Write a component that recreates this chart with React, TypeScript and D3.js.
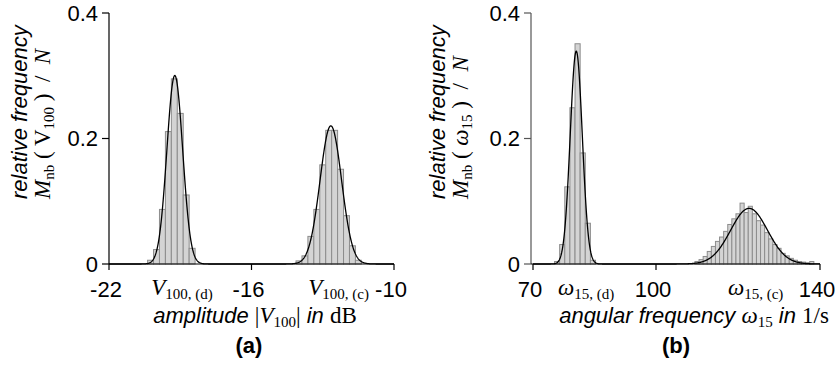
import React from "react";
import * as d3 from "d3";

// ---------- data ----------
const yTicks = [0, 0.2, 0.4];
const yTickLabels = ["0", "0.2", "0.4"];

const ampTicks = [-22, -16, -10];
const ampTickLabels = ["-22", "-16", "-10"];
const freqTicks = [70, 100, 140];
const freqTickLabels = ["70", "100", "140"];

// panel (a): amplitude |V100| in dB
const ampBinWidth = 0.25;
const ampCentersD = [-20.25, -20.0, -19.75, -19.5, -19.25, -19.0, -18.75, -18.5];
const ampFreqD = [0.006, 0.023, 0.087, 0.211, 0.295, 0.24, 0.11, 0.025];
const ampCentersC = [-14.0, -13.75, -13.5, -13.25, -13.0, -12.75, -12.5, -12.25, -12.0, -11.75, -11.5];
const ampFreqC = [0.005, 0.013, 0.044, 0.087, 0.158, 0.213, 0.213, 0.151, 0.077, 0.029, 0.006];
const ampFitMeans = [-19.23, -12.66];
const ampFitSigmas = [0.332, 0.453];
const ampFitBins = [0.25, 0.25];
const ampMarkPos = [-18.93, -12.33];

// panel (b): angular frequency omega15 in 1/s
const freqBinWidthD = 1.25;
const freqCentersD = [75.875, 77.125, 78.375, 79.625, 80.875, 82.125, 83.375, 84.625];
const freqValsD = [0.004, 0.031, 0.123, 0.249, 0.351, 0.177, 0.065, 0.006];
const freqBinWidthC = 1;
const freqCentersC = [110, 111, 112, 113, 114, 115, 116, 117, 118, 119, 120, 121, 122, 123, 124, 125, 126, 127, 128, 129, 130, 131, 132, 133, 134, 135, 136, 137, 138];
const freqValsC = [0.004, 0.007, 0.012, 0.02, 0.028, 0.036, 0.043, 0.052, 0.063, 0.072, 0.08, 0.097, 0.082, 0.092, 0.08, 0.069, 0.062, 0.05, 0.04, 0.031, 0.025, 0.017, 0.013, 0.009, 0.006, 0.004, 0.003, 0.002, 0.004];
const freqFitMeans = [80.55, 122.7];
const freqFitSigmas = [1.47, 4.5];
const freqFitBins = [1.25, 1];
const freqMarkPos = [82.98, 124.3];

// ---------- style ----------
const SANS = "'Liberation Sans', Arial, sans-serif";
const SERIF = "'Liberation Serif', 'Times New Roman', serif";
const FS = 22;
const MFS = 23;
const SFS = 15;
const BAR_FILL = "#d4d4d4";
const BAR_STROKE = "#8c8c8c";

const yScale = d3.scaleLinear().domain([0, 0.4]).range([264, 13]);

function mixture(means: number[], sigmas: number[], bins: number[]) {
  return (x: number) =>
    means.reduce((s, m, i) => {
      const sd = sigmas[i];
      const peak = bins[i] / (sd * Math.sqrt(2 * Math.PI));
      return s + peak * Math.exp(-((x - m) * (x - m)) / (2 * sd * sd));
    }, 0);
}

function Bars({ xs, centers, vals, bw }: any) {
  return (
    <g>
      {centers.map((c: number, i: number) => {
        const x0 = xs(c - bw / 2);
        const x1 = xs(c + bw / 2);
        return (
          <rect
            key={i}
            x={x0}
            y={yScale(vals[i])}
            width={x1 - x0}
            height={yScale(0) - yScale(vals[i])}
            fill={BAR_FILL}
            stroke={BAR_STROKE}
            strokeWidth={1}
          />
        );
      })}
    </g>
  );
}

function Curve({ xs, f }: any) {
  const [a, b] = xs.domain();
  const pts = d3.range(0, 801).map((i) => a + ((b - a) * i) / 800);
  const line = d3
    .line<number>()
    .x((d) => xs(d))
    .y((d) => yScale(f(d)))
    .curve(d3.curveLinear);
  return <path d={line(pts) || ""} fill="none" stroke="#000" strokeWidth={1.3} />;
}

function YAxis({ x, color }: any) {
  return (
    <g>
      <line x1={x} x2={x} y1={yScale(0.4)} y2={yScale(0)} stroke={color} strokeWidth={1.2} />
      {yTicks.map((t, i) => (
        <g key={i}>
          <line x1={x - 7} x2={x} y1={yScale(t)} y2={yScale(t)} stroke={color} strokeWidth={1.2} />
          <text x={x - 11} y={yScale(t)} dy="0.36em" textAnchor="end" fontFamily={SANS} fontSize={FS}>
            {yTickLabels[i]}
          </text>
        </g>
      ))}
    </g>
  );
}

function XAxis({ xs, ticks, labels, x0 }: any) {
  const [, b] = xs.domain();
  return (
    <g>
      <line x1={x0} x2={xs(b)} y1={yScale(0)} y2={yScale(0)} stroke="#000" strokeWidth={1.2} />
      {ticks.map((t: number, i: number) => (
        <g key={i}>
          <line x1={xs(t)} x2={xs(t)} y1={yScale(0)} y2={yScale(0) + 6} stroke="#000" strokeWidth={1.2} />
          <text x={xs(t) - 3} y={297} textAnchor="middle" fontFamily={SANS} fontSize={FS}>
            {labels[i]}
          </text>
        </g>
      ))}
    </g>
  );
}

function MathMark({ x, sym, sub, tag }: any) {
  return (
    <text x={x} y={295} textAnchor="middle" fontFamily={SERIF} fontSize={MFS}>
      <tspan fontStyle="italic">{sym}</tspan>
      <tspan fontSize={SFS} dy={4}>{sub + ", "}</tspan>
      <tspan fontSize={SFS}>{"(" + tag + ")"}</tspan>
    </text>
  );
}

function YLabel({ x1, x2, sym, symItalic, sub }: any) {
  return (
    <g>
      <text transform={`translate(${x1},199) rotate(-90)`} fontFamily={SANS} fontStyle="italic" fontSize={FS}>
        relative frequency
      </text>
      <text
        transform={`translate(${x2},199) rotate(-90)`}
        fontFamily={SERIF}
        fontSize={MFS}
        style={{ whiteSpace: "pre" }}
      >
        <tspan fontStyle="italic">M</tspan>
        <tspan fontSize={SFS} dy={4}>nb</tspan>
        <tspan dy={-4}>{" ( "}</tspan>
        <tspan fontStyle={symItalic ? "italic" : "normal"}>{sym}</tspan>
        <tspan fontSize={SFS} dy={4}>{sub}</tspan>
        <tspan dy={-4}>{" )  /  "}</tspan>
        <tspan fontStyle="italic">N</tspan>
      </text>
    </g>
  );
}

export default function App() {
  const xa = d3.scaleLinear().domain([-22, -10]).range([109, 394]);
  const xb = d3.scaleLinear().domain([70, 140]).range([533, 820]);
  const fa = mixture(ampFitMeans, ampFitSigmas, ampFitBins);
  const fb = mixture(freqFitMeans, freqFitSigmas, freqFitBins);

  return (
    <svg width={840} height={376} style={{ position: "absolute", left: 0, top: 0, background: "#fff" }}>
      <rect width={840} height={376} fill="#fff" />
      {/* panel (a) */}
      <Bars xs={xa} centers={ampCentersD} vals={ampFreqD} bw={ampBinWidth} />
      <Bars xs={xa} centers={ampCentersC} vals={ampFreqC} bw={ampBinWidth} />
      <Curve xs={xa} f={fa} />
      <YAxis x={109} color="#000" />
      <XAxis xs={xa} ticks={ampTicks} labels={ampTickLabels} x0={109} />
      <MathMark x={xa(ampMarkPos[0])} sym="V" sub="100" tag="d" />
      <MathMark x={xa(ampMarkPos[1])} sym="V" sub="100" tag="c" />
      <YLabel x1={27} x2={50} sym="V" symItalic={false} sub="100" />
      <text x={255} y={323} textAnchor="middle" fontSize={FS}>
        <tspan fontFamily={SANS} fontStyle="italic">amplitude </tspan>
        <tspan fontFamily={SERIF} fontSize={MFS}>|</tspan>
        <tspan fontFamily={SERIF} fontSize={MFS} fontStyle="italic">V</tspan>
        <tspan fontFamily={SERIF} fontSize={SFS} dy={4}>100</tspan>
        <tspan fontFamily={SERIF} fontSize={MFS} dy={-4}>|</tspan>
        <tspan fontFamily={SANS} fontStyle="italic">{" in "}</tspan>
        <tspan fontFamily={SERIF} fontSize={MFS}>dB</tspan>
      </text>
      <text x={249} y={353} textAnchor="middle" fontFamily={SANS} fontWeight="bold" fontSize={FS}>
        (a)
      </text>

      {/* panel (b) */}
      <Bars xs={xb} centers={freqCentersD} vals={freqValsD} bw={freqBinWidthD} />
      <Bars xs={xb} centers={freqCentersC} vals={freqValsC} bw={freqBinWidthC} />
      <Curve xs={xb} f={fb} />
      <YAxis x={531} color="#555" />
      <XAxis xs={xb} ticks={freqTicks} labels={freqTickLabels} x0={531} />
      <MathMark x={xb(freqMarkPos[0])} sym="ω" sub="15" tag="d" />
      <MathMark x={xb(freqMarkPos[1])} sym="ω" sub="15" tag="c" />
      <YLabel x1={445} x2={468} sym="ω" symItalic={true} sub="15" />
      <text x={694} y={323} textAnchor="middle" fontSize={FS}>
        <tspan fontFamily={SANS} fontStyle="italic">angular frequency </tspan>
        <tspan fontFamily={SERIF} fontSize={MFS} fontStyle="italic">ω</tspan>
        <tspan fontFamily={SERIF} fontSize={SFS} dy={4}>15</tspan>
        <tspan fontFamily={SANS} fontStyle="italic" dy={-4}>{" in "}</tspan>
        <tspan fontFamily={SERIF} fontSize={MFS}>1/s</tspan>
      </text>
      <text x={676} y={353} textAnchor="middle" fontFamily={SANS} fontWeight="bold" fontSize={FS}>
        (b)
      </text>
    </svg>
  );
}
